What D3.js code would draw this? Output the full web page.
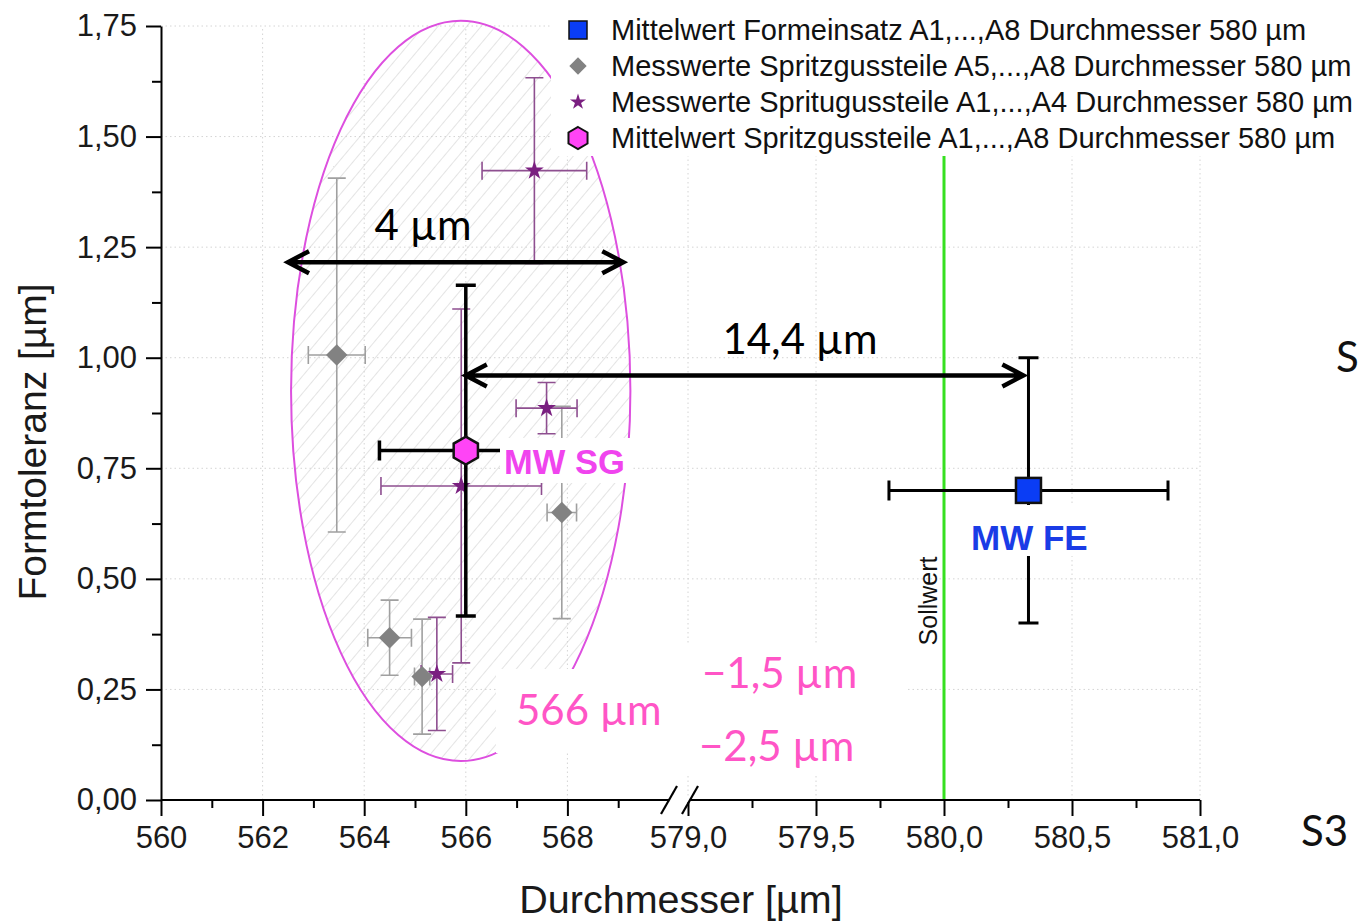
<!DOCTYPE html>
<html>
<head>
<meta charset="utf-8">
<script src="https://cdn.jsdelivr.net/npm/d3@7"></script>
<style>
  body { margin: 0; background: #fff; }
  svg { display: block; }
  .tick text { font-family: "Liberation Sans", Arial, sans-serif; }
</style>
</head>
<body>
<div id="chart"></div>
<script>
// ---- Daten ----
// Messwerte Spritzgussteile A5..A8 (grau, Raute)
const diaX = [563.46, 564.50, 565.14, 567.89];
const diaY = [1.006, 0.367, 0.279, 0.650];
const diaXErr = [0.56, 0.43, 0.15, 0.29];
const diaYErr = [0.40, 0.085, 0.13, 0.24];
// Messwerte Spritzgussteile A1..A4 (lila, Stern)
const starX = [567.35, 567.59, 565.91, 565.43];
const starY = [1.423, 0.886, 0.710, 0.285];
const starXErr = [1.03, 0.60, 1.58, 0.31];
const starYErr = [0.21, 0.058, 0.40, 0.128];
// Mittelwert Spritzgussteile (MW SG)
const sgX = 566.0, sgY = 0.79, sgXErr = 1.7, sgYErr = 0.374;
// Mittelwert Formeinsatz (MW FE)
const feX = 580.33, feY = 0.70, feXErr = 0.545, feYErr = 0.30;
const sollwert = 580.0;
// Streuungsellipse
const ellipse = {cx: 565.9, cy: 0.925, rx: 3.34, ry: 0.837};
// Pfeile
const arrow4 = {x1: 562.5, x2: 569.1, y: 1.216, label: '4 µm'};
const arrow14 = {x1: 566.0, x2: 580.31, y: 0.96, label: '14,4 µm'};

const yTicks = [0, 0.25, 0.5, 0.75, 1.0, 1.25, 1.5, 1.75];
const yMinor = [0.125, 0.375, 0.625, 0.875, 1.125, 1.375, 1.625];
const xTicksL = [560, 562, 564, 566, 568];
const xMinorL = [561, 563, 565, 567, 569];
const xTicksR = [579.0, 579.5, 580.0, 580.5, 581.0];
const xMinorR = [579.25, 579.75, 580.25, 580.75];

const legendItems = [
  {label: 'Mittelwert Formeinsatz A1,...,A8 Durchmesser 580 µm', kind: 'square'},
  {label: 'Messwerte Spritzgussteile A5,...,A8 Durchmesser 580 µm', kind: 'diamond'},
  {label: 'Messwerte Spritugussteile A1,...,A4 Durchmesser 580 µm', kind: 'star'},
  {label: 'Mittelwert Spritzgussteile A1,...,A8 Durchmesser 580 µm', kind: 'hex'}
];

const width = 1360, height = 924;
const svg = d3.select('#chart').append('svg').attr('width', width).attr('height', height);

// Skalen (unterbrochene x-Achse)
const xL = d3.scaleLinear().domain([560, 570]).range([161, 669]);
const xR = d3.scaleLinear().domain([579, 581]).range([688, 1200]);
const x = v => v < 575 ? xL(v) : xR(v);
const y = d3.scaleLinear().domain([0, 1.75]).range([800, 26]);

const de = d3.formatLocale({decimal: ',', thousands: '.', grouping: [3], currency: ['', '€']});
const fmt2 = de.format('.2f');
const fmt1 = de.format('.1f');

const FONT = '"Liberation Sans", Arial, sans-serif';
const CAL = 'Lato, "Open Sans", sans-serif';

// Gitter
const grid = svg.append('g').attr('stroke', '#d4d4d4').attr('stroke-dasharray', '1.5,3').attr('stroke-width', 1);
grid.selectAll('.gy').data(yTicks.slice(1)).join('line')
  .attr('x1', 161).attr('x2', 1200).attr('y1', d => y(d)).attr('y2', d => y(d));
grid.selectAll('.gx').data(xTicksL.slice(1).concat(xTicksR)).join('line')
  .attr('x1', d => x(d)).attr('x2', d => x(d)).attr('y1', y(0)).attr('y2', y(1.75));

// Ellipse mit Schraffur
const defs = svg.append('defs');
const pat = defs.append('pattern').attr('id', 'hatch').attr('patternUnits', 'userSpaceOnUse')
  .attr('width', 11).attr('height', 11).attr('patternTransform', 'rotate(40)');
pat.append('line').attr('x1', 0).attr('y1', 0).attr('x2', 0).attr('y2', 11)
  .attr('stroke', '#d2d2d2').attr('stroke-width', 1.2);
const ecx = x(ellipse.cx), ecy = y(ellipse.cy);
const erx = xL(ellipse.cx + ellipse.rx) - ecx, ery = ecy - y(ellipse.cy + ellipse.ry);
svg.append('ellipse').attr('cx', ecx).attr('cy', ecy).attr('rx', erx).attr('ry', ery)
  .attr('fill', 'url(#hatch)').attr('stroke', '#dd4fdf').attr('stroke-width', 2);

// Sollwert-Linie
svg.append('line').attr('x1', x(sollwert)).attr('x2', x(sollwert)).attr('y1', y(0)).attr('y2', y(1.75))
  .attr('stroke', '#36e020').attr('stroke-width', 3);
svg.append('text').attr('transform', `translate(${x(sollwert) - 7},601) rotate(-90)`)
  .attr('text-anchor', 'middle').attr('font-family', FONT).attr('font-size', 25).attr('fill', '#111')
  .text('Sollwert');

// Fehlerbalken
function errBars(g, cx, cy, ex, ey, color, w, cap) {
  const x0 = x(cx - ex), x1 = x(cx + ex), yc = y(cy), xc = x(cx), y0 = y(cy - ey), y1 = y(cy + ey);
  const p = `M${x0},${yc}H${x1}M${x0},${yc - cap}V${yc + cap}M${x1},${yc - cap}V${yc + cap}` +
    `M${xc},${y0}V${y1}M${xc - cap},${y0}H${xc + cap}M${xc - cap},${y1}H${xc + cap}`;
  g.append('path').attr('d', p).attr('stroke', color).attr('stroke-width', w).attr('fill', 'none');
}

const gGrey = svg.append('g');
diaX.forEach((d, i) => errBars(gGrey, d, diaY[i], diaXErr[i], diaYErr[i], '#a0a0a0', 1.6, 9));
const gStar = svg.append('g');
starX.forEach((d, i) => errBars(gStar, d, starY[i], starXErr[i], starYErr[i], '#8e4f90', 1.6, 9));

const diamond = d3.symbol(d3.symbolSquare, 230);
svg.append('g').selectAll('path').data(diaX).join('path')
  .attr('d', diamond)
  .attr('transform', (d, i) => `translate(${x(d)},${y(diaY[i])}) rotate(45)`)
  .attr('fill', '#828282');

const star = d3.symbol(d3.symbolStar, 110);
svg.append('g').selectAll('path').data(starX).join('path')
  .attr('d', star)
  .attr('transform', (d, i) => `translate(${x(d)},${y(starY[i])})`)
  .attr('fill', '#7a1f80');

// MW SG
const gSG = svg.append('g');
errBars(gSG, sgX, sgY, sgXErr, sgYErr, '#000', 3.5, 10);
const hexPath = r => d3.range(6).map(k => {
  const a = Math.PI / 3 * k - Math.PI / 2;
  return [r * Math.cos(a), r * Math.sin(a)];
});
gSG.append('path').attr('d', 'M' + hexPath(14).join('L') + 'Z')
  .attr('transform', `translate(${x(sgX)},${y(sgY)})`)
  .attr('fill', '#ff44f6').attr('stroke', '#111').attr('stroke-width', 2.5);

// MW FE
const gFE = svg.append('g');
errBars(gFE, feX, feY, feXErr, feYErr, '#000', 3, 10);
gFE.append('rect').attr('x', x(feX) - 12.5).attr('y', y(feY) - 12.5).attr('width', 25).attr('height', 25)
  .attr('fill', '#0a3df5').attr('stroke', '#111').attr('stroke-width', 2.5);

// Beschriftungen mit weißem Hintergrund
svg.append('rect').attr('x', 500).attr('y', 438).attr('width', 133).attr('height', 45).attr('fill', '#fff');
svg.append('text').attr('x', 504).attr('y', 474).attr('font-family', FONT).attr('font-weight', 'bold')
  .attr('font-size', 34.5).attr('fill', '#f044ee').text('MW SG');
svg.append('rect').attr('x', 968).attr('y', 505).attr('width', 126).attr('height', 51).attr('fill', '#fff');
svg.append('text').attr('x', 971).attr('y', 550).attr('font-family', FONT).attr('font-weight', 'bold')
  .attr('font-size', 35).attr('fill', '#1a3ce6').text('MW FE');

// Pfeile
function dblArrow(a) {
  const x1 = x(a.x1), x2 = x(a.x2), yy = y(a.y);
  const p = `M${x1},${yy}H${x2}M${x1 + 21},${yy - 11}L${x1},${yy}L${x1 + 21},${yy + 11}` +
    `M${x2 - 21},${yy - 11}L${x2},${yy}L${x2 - 21},${yy + 11}`;
  svg.append('path').attr('d', p).attr('stroke', '#000').attr('stroke-width', 4.5).attr('fill', 'none')
    .attr('stroke-linejoin', 'miter');
}
dblArrow(arrow4);
dblArrow(arrow14);
svg.append('text').attr('x', 423).attr('y', 240).attr('text-anchor', 'middle').attr('font-family', CAL)
  .attr('font-size', 42).attr('fill', '#000').text(arrow4.label);
svg.append('text').attr('x', 800).attr('y', 354).attr('text-anchor', 'middle').attr('font-family', CAL)
  .attr('font-size', 42).attr('fill', '#000').text(arrow14.label);

// rosa Texte (eingefügt, weißer Hintergrund)
svg.append('rect').attr('x', 496).attr('y', 669).attr('width', 172).attr('height', 84).attr('fill', '#fff');
svg.append('rect').attr('x', 668).attr('y', 645).attr('width', 240).attr('height', 130).attr('fill', '#fff');
const pink = '#ff55c6';
svg.append('text').attr('x', 516).attr('y', 725).attr('font-family', CAL).attr('font-size', 42)
  .attr('fill', pink).text('566 µm');
svg.append('text').attr('x', 702).attr('y', 688).attr('font-family', CAL).attr('font-size', 42)
  .attr('fill', pink).text('−1,5 µm');
svg.append('text').attr('x', 699).attr('y', 761).attr('font-family', CAL).attr('font-size', 42)
  .attr('fill', pink).text('−2,5 µm');

// Achsen
const yAxis = svg.append('g').attr('transform', 'translate(161,0)')
  .call(d3.axisLeft(y).tickValues(yTicks).tickFormat(fmt2).tickSize(15).tickSizeOuter(0).tickPadding(9));
svg.append('g').attr('transform', 'translate(161,0)')
  .call(d3.axisLeft(y).tickValues(yMinor).tickFormat('').tickSize(9).tickSizeOuter(0))
  .call(g => g.select('.domain').remove());
yAxis.select('.domain').attr('stroke-width', 2);

const xAxisG = svg.append('g').attr('transform', `translate(0,${y(0)})`);
xAxisG.append('g').call(d3.axisBottom(xL).tickValues(xTicksL).tickFormat(d3.format('d')).tickSize(16).tickPadding(10))
  .call(g => g.select('.domain').remove());
xAxisG.append('g').call(d3.axisBottom(xL).tickValues(xMinorL).tickFormat('').tickSize(8))
  .call(g => g.select('.domain').remove());
xAxisG.append('g').call(d3.axisBottom(xR).tickValues(xTicksR).tickFormat(fmt1).tickSize(16).tickPadding(10))
  .call(g => g.select('.domain').remove());
xAxisG.append('g').call(d3.axisBottom(xR).tickValues(xMinorR).tickFormat('').tickSize(8))
  .call(g => g.select('.domain').remove());
xAxisG.append('line').attr('x1', 161).attr('x2', 1200).attr('stroke', '#000').attr('stroke-width', 2);
// Achsenbruch
const brk = [xL(570), xR(579) + 2];
xAxisG.append('rect').attr('x', brk[0]).attr('y', -2).attr('width', brk[1] - brk[0]).attr('height', 4).attr('fill', '#fff');
xAxisG.selectAll('.brk').data(brk).join('line')
  .attr('x1', d => d - 8).attr('x2', d => d + 8).attr('y1', 14).attr('y2', -14)
  .attr('stroke', '#000').attr('stroke-width', 2.2);

svg.selectAll('.tick line').attr('stroke-width', 2);
svg.selectAll('.tick text').attr('font-size', 31).attr('fill', '#1a1a1a');

svg.append('text').attr('transform', 'translate(46,442) rotate(-90)').attr('text-anchor', 'middle')
  .attr('font-family', FONT).attr('font-size', 39).attr('fill', '#1a1a1a').text('Formtoleranz [µm]');
svg.append('text').attr('x', 681).attr('y', 913).attr('text-anchor', 'middle')
  .attr('font-family', FONT).attr('font-size', 39.5).attr('fill', '#1a1a1a').text('Durchmesser [µm]');

// Legende
const leg = svg.append('g');
leg.append('rect').attr('x', 551).attr('y', 6).attr('width', 809).attr('height', 150).attr('fill', '#fff');
const rows = leg.selectAll('.row').data(legendItems).join('g')
  .attr('transform', (d, i) => `translate(578,${30 + i * 36})`);
rows.each(function (d) {
  const g = d3.select(this);
  if (d.kind === 'square') {
    g.append('rect').attr('x', -9).attr('y', -9).attr('width', 18).attr('height', 18)
      .attr('fill', '#0a3df5').attr('stroke', '#111').attr('stroke-width', 1.5);
  } else if (d.kind === 'diamond') {
    g.append('path').attr('d', d3.symbol(d3.symbolSquare, 150)).attr('transform', 'rotate(45)').attr('fill', '#828282');
  } else if (d.kind === 'star') {
    g.append('path').attr('d', d3.symbol(d3.symbolStar, 80)).attr('fill', '#7a1f80');
  } else {
    g.append('path').attr('d', 'M' + hexPath(11).join('L') + 'Z')
      .attr('fill', '#ff44f6').attr('stroke', '#111').attr('stroke-width', 2);
  }
});
rows.append('text').attr('x', 33).attr('y', 10).attr('font-family', FONT).attr('font-size', 29)
  .attr('fill', '#111').text(d => d.label);

// Texte am rechten Rand
svg.append('text').attr('x', 1336).attr('y', 372).attr('font-family', CAL).attr('font-size', 42)
  .attr('fill', '#111').text('S');
svg.append('text').attr('x', 1301).attr('y', 846).attr('font-family', CAL).attr('font-size', 42)
  .attr('fill', '#111').text('S3');
</script>
</body>
</html>
